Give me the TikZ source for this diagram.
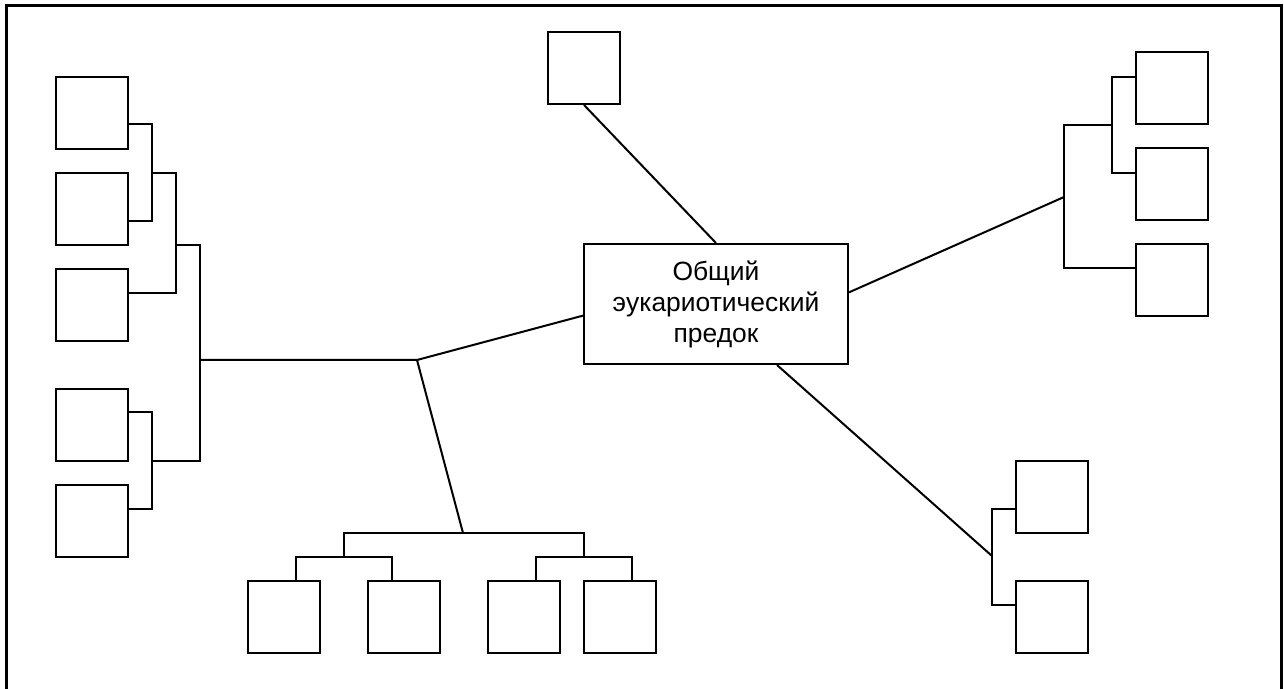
\documentclass[tikz,border=0pt]{standalone}
\usepackage{fontspec}
\setmainfont{Liberation Sans}
\begin{document}
\begin{tikzpicture}[x=0.5pt,y=-0.5pt,line width=1pt,
  taxon/.style={draw,line width=1pt,minimum width=36pt,minimum height=36pt,inner sep=0pt},
  root/.style={draw,line width=1pt,minimum width=132pt,minimum height=60pt,inner sep=0pt,align=center,font=\fontsize{13.2}{15.5}\selectfont}]
\useasboundingbox (0,0) rectangle (1284,689);
\draw [line width=1.5pt] (6,689) -- (6,6) -- (1281.5,6) -- (1281.5,689);

\node [root] (ancestor) at (716,304) {Общий\\эукариотический\\предок};
\node [taxon] (T) at (584,68) {};

\node [taxon] (L1) at (92,113) {};
\node [taxon] (L2) at (92,209) {};
\node [taxon] (L3) at (92,305) {};
\node [taxon] (L4) at (92,425) {};
\node [taxon] (L5) at (92,521) {};

\node [taxon] (B1) at (284,617) {};
\node [taxon] (B2) at (404,617) {};
\node [taxon] (B3) at (524,617) {};
\node [taxon] (B4) at (620,617) {};

\node [taxon] (R1) at (1172,88) {};
\node [taxon] (R2) at (1172,184) {};
\node [taxon] (R3) at (1172,280) {};

\node [taxon] (E) at (1052,497) {};
\node [taxon] (F) at (1052,617) {};

\coordinate (a1) at (152,124);
\coordinate (a2) at (152,221);
\coordinate (b1) at (176,173);
\coordinate (b2) at (176,293);
\coordinate (d1) at (152,412);
\coordinate (d2) at (152,509);
\coordinate (c1) at (200,245);
\coordinate (c2) at (200,461);
\coordinate (jl) at (417,360);

\coordinate (jb) at (463,533);
\coordinate (e1) at (344,533);
\coordinate (e2) at (584,533);
\coordinate (f1) at (296,557);
\coordinate (f2) at (392,557);
\coordinate (f3) at (536,557);
\coordinate (f4) at (632,557);

\coordinate (jr) at (1064,197);
\coordinate (g1) at (1064,125);
\coordinate (g2) at (1064,268);
\coordinate (h1) at (1112,77);
\coordinate (h2) at (1112,173);

\coordinate (jbr) at (992,556);
\coordinate (m1) at (992,509);
\coordinate (m2) at (992,605);

\draw (T.south) -- (ancestor.north);

\draw (L1.east |- a1) -- (a1) -- (a2) -- (L2.east |- a2);
\draw (a1 |- b1) -- (b1) -- (b2) -- (L3.east |- b2);
\draw (L4.east |- d1) -- (d1) -- (d2) -- (L5.east |- d2);
\draw (b1 |- c1) -- (c1) -- (c2) -- (d1 |- c2);
\draw (c1 |- jl) -- (jl) -- (ancestor.185);
\draw (jl) -- (jb);

\draw (e1 |- f1) -- (e1) -- (e2) -- (e2 |- f3);
\draw (B1.north -| f1) -- (f1) -- (f2) -- (B2.north -| f2);
\draw (B3.north -| f3) -- (f3) -- (f4) -- (B4.north -| f4);

\draw (ancestor.5) -- (jr);
\draw (R1.west |- h1) -- (h1) -- (h2) -- (R2.west |- h2);
\draw (h1 |- g1) -- (g1) -- (g2) -- (R3.west |- g2);

\draw (ancestor.-45) -- (jbr);
\draw (E.west |- m1) -- (m1) -- (m2) -- (F.west |- m2);
\end{tikzpicture}
\end{document}
